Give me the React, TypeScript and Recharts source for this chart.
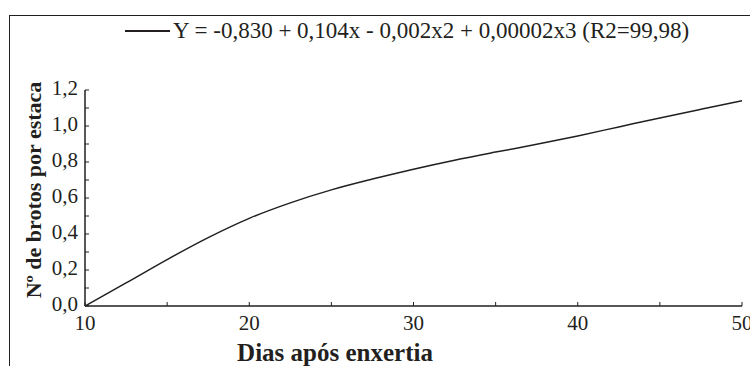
import React from 'react';
import { LineChart, Line, XAxis, YAxis, Legend, Label } from 'recharts';

const days = [10, 12.5, 15, 17.5, 20, 22.5, 25, 27.5, 30, 32.5, 35, 37.5, 40, 42.5, 45, 47.5, 50];
const shoots = [0, 0.128, 0.258, 0.38, 0.487, 0.573, 0.645, 0.705, 0.76, 0.81, 0.855, 0.898, 0.945, 0.995, 1.045, 1.093, 1.14];

const xTicks = [10, 15, 20, 25, 30, 35, 40, 45, 50];
const yTicks = [0, 0.1, 0.2, 0.3, 0.4, 0.5, 0.6, 0.7, 0.8, 0.9, 1.0, 1.1, 1.2];

const legendText = 'Y = -0,830 + 0,104x - 0,002x2 + 0,00002x3 (R2=99,98)';
const xTitle = 'Dias após enxertia';
const yTitle = 'Nº de brotos por estaca';

const chartData = days.map((d, i) => ({ day: d, shoots: shoots[i] }));

const FONT = "'Times New Roman', Times, 'Liberation Serif', Tinos, 'Nimbus Roman', 'DejaVu Serif', 'Noto Serif', serif";
const INK = '#231f20';
const TICK_GAP = 6;
const TICK_LEN = 4;

const XTick = (props: any) => {
  const { x, y, payload } = props;
  const v = payload.value;
  const axisY = y - TICK_GAP;
  return (
    <g>
      <line x1={x} x2={x} y1={axisY} y2={axisY - TICK_LEN} stroke={INK} strokeWidth={1} />
      {v % 10 === 0 && (
        <text x={x} y={axisY + 24} textAnchor="middle" style={{ fontFamily: FONT }} fontSize={21} fill={INK}>
          {v}
        </text>
      )}
    </g>
  );
};

const YTick = (props: any) => {
  const { x, y, payload } = props;
  const v = payload.value;
  const axisX = x + TICK_GAP;
  const major = Math.round(v * 10) % 2 === 0;
  return (
    <g>
      <line x1={axisX} x2={axisX + TICK_LEN} y1={y} y2={y} stroke={INK} strokeWidth={1} />
      {major && (
        <text x={x - 1} y={y + 5} textAnchor="end" style={{ fontFamily: FONT }} fontSize={21} fill={INK}>
          {v.toFixed(1).replace('.', ',')}
        </text>
      )}
    </g>
  );
};

const LegendContent = () => (
  <div style={{ display: 'flex', alignItems: 'center', fontFamily: FONT, fontSize: 23, color: INK, whiteSpace: 'nowrap' }}>
    <svg width={45} height={4} style={{ marginRight: 3 }}>
      <line x1={0} x2={45} y1={2} y2={2} stroke={INK} strokeWidth={2} />
    </svg>
    <span>{legendText}</span>
  </div>
);

export default function App() {
  return (
    <div style={{ position: 'absolute', left: 0, top: 0, width: 750, height: 366, background: '#fff', overflow: 'hidden' }}>
      <div
        style={{
          position: 'absolute',
          left: 9,
          top: 15,
          width: 760,
          height: 400,
          borderTop: `1.5px solid ${INK}`,
          borderLeft: `1.5px solid ${INK}`,
        }}
      />
      <div style={{ position: 'absolute', left: 0, top: 0 }}>
        <LineChart width={750} height={366} data={chartData} margin={{ top: 64, right: 8, bottom: 20, left: 25 }}>
          <XAxis
            dataKey="day"
            type="number"
            domain={[10, 50]}
            ticks={xTicks}
            interval={0}
            height={40}
            tickSize={0}
            tickMargin={TICK_GAP}
            tick={<XTick />}
            axisLine={{ stroke: INK, strokeWidth: 1.5 }}
            tickLine={false}
          >
            <Label
              content={() => (
                <text x={335} y={361} textAnchor="middle" style={{ fontFamily: FONT }} fontSize={25} fontWeight="bold" fill={INK}>
                  {xTitle}
                </text>
              )}
            />
          </XAxis>
          <YAxis
            type="number"
            domain={[0, 1.2]}
            ticks={yTicks}
            interval={0}
            width={60}
            tickSize={0}
            tickMargin={TICK_GAP}
            tick={<YTick />}
            axisLine={{ stroke: INK, strokeWidth: 1.5 }}
            tickLine={false}
          >
            <Label
              content={() => (
                <text
                  x={41}
                  y={190}
                  transform="rotate(-90 41 190)"
                  textAnchor="middle"
                  style={{ fontFamily: FONT }}
                  fontSize={22}
                  fontWeight="bold"
                  fill={INK}
                >
                  {yTitle}
                </text>
              )}
            />
          </YAxis>
          <Legend
            verticalAlign="top"
            content={<LegendContent />}
            wrapperStyle={{ position: 'absolute', top: 18, left: 125, width: 'auto' }}
          />
          <Line
            type="monotone"
            dataKey="shoots"
            stroke={INK}
            strokeWidth={1.5}
            dot={false}
            isAnimationActive={false}
          />
        </LineChart>
      </div>
    </div>
  );
}
